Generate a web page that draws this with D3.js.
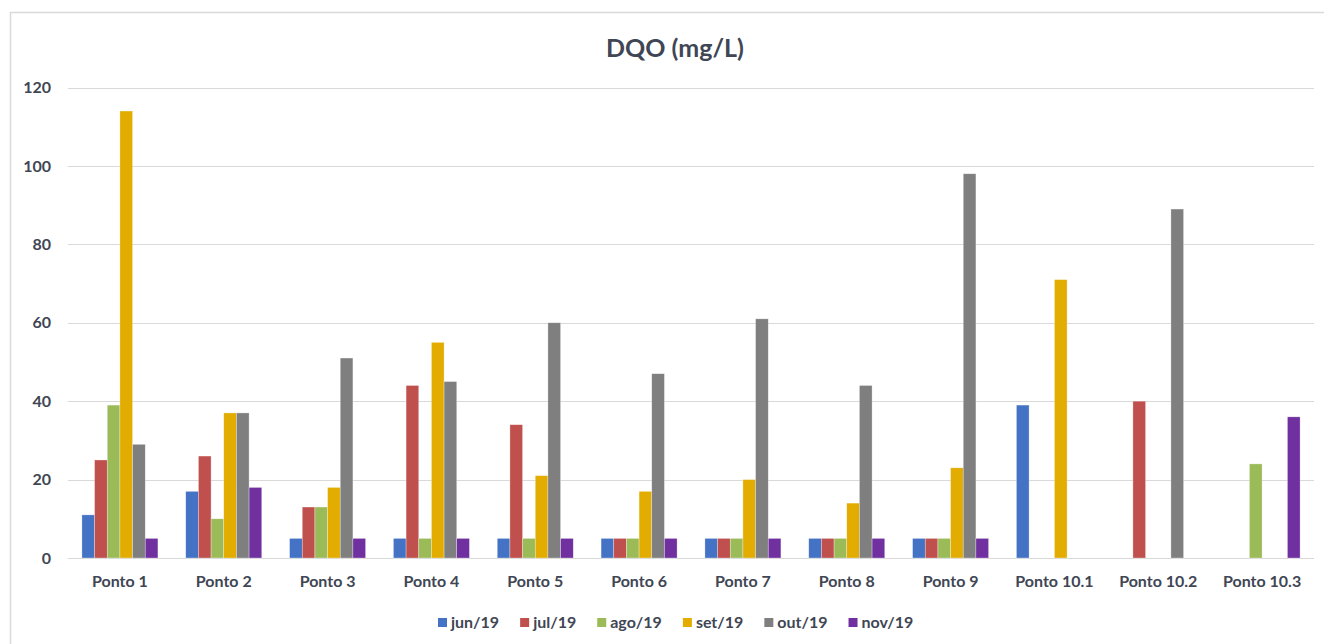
<!DOCTYPE html>
<html>
<head>
<meta charset="utf-8">
<script src="https://cdn.jsdelivr.net/npm/d3@7"></script>
<style>
  html, body { margin: 0; padding: 0; background: #fff; }
  svg { display: block; font-family: Lato, "Open Sans", "Liberation Sans", sans-serif; }
</style>
</head>
<body>
<svg id="chart" width="1324" height="644"></svg>
<script>
// Sampling points and monthly series (DQO, mg/L); null = no sample
const categories = ["Ponto 1", "Ponto 2", "Ponto 3", "Ponto 4", "Ponto 5", "Ponto 6",
                    "Ponto 7", "Ponto 8", "Ponto 9", "Ponto 10.1", "Ponto 10.2", "Ponto 10.3"];
const seriesNames = ["jun/19", "jul/19", "ago/19", "set/19", "out/19", "nov/19"];
const jun19 = [11, 17, 5, 5, 5, 5, 5, 5, 5, 39, null, null];
const jul19 = [25, 26, 13, 44, 34, 5, 5, 5, 5, null, 40, null];
const ago19 = [39, 10, 13, 5, 5, 5, 5, 5, 5, null, null, 24];
const set19 = [114, 37, 18, 55, 21, 17, 20, 14, 23, 71, null, null];
const out19 = [29, 37, 51, 45, 60, 47, 61, 44, 98, null, 89, null];
const nov19 = [5, 18, 5, 5, 5, 5, 5, 5, 5, null, null, 36];
const yTicks = [0, 20, 40, 60, 80, 100, 120];
const colors = ["#4472C4", "#C0504D", "#9BBB59", "#E2AC00", "#7F7F7F", "#7030A0"];

const seriesValues = [jun19, jul19, ago19, set19, out19, nov19];

const svg = d3.select("#chart");
const W = 1324, H = 644;
const x0 = 68, x1 = 1314, yTop = 87.5, yBot = 558;
const textColor = "#404654";

// Chart frame
svg.append("rect")
  .attr("x", 10.5).attr("y", 12.5)
  .attr("width", W + 10).attr("height", H + 10)
  .attr("fill", "#fff").attr("stroke", "#d9d9d9").attr("stroke-width", 1.5);

const x = d3.scaleBand().domain(categories).range([x0, x1]).paddingInner(0).paddingOuter(0);
const groupFrac = 76 / x.bandwidth();
const xs = d3.scaleBand().domain(seriesNames)
  .range([(1 - groupFrac) / 2 * x.bandwidth(), (1 + groupFrac) / 2 * x.bandwidth()]);
const y = d3.scaleLinear().domain([0, 120]).range([yBot, yTop]);

// Gridlines
svg.append("g").selectAll("line").data(yTicks).join("line")
  .attr("x1", x0).attr("x2", x1)
  .attr("y1", d => Math.round(y(d)) + 0.5).attr("y2", d => Math.round(y(d)) + 0.5)
  .attr("stroke", "#d9d9d9").attr("stroke-width", 1);

// Y axis labels
const yAxis = d3.axisLeft(y).tickValues(yTicks).tickSize(0).tickPadding(0);
const gy = svg.append("g").attr("transform", `translate(${x0 - 17},0)`).call(yAxis);
gy.select(".domain").remove();
gy.selectAll("text")
  .attr("font-size", 16).attr("font-weight", "bold").attr("fill", textColor)
  .attr("font-family", "Lato, 'Open Sans', sans-serif");

// Bars
const groups = svg.append("g").selectAll("g").data(categories).join("g")
  .attr("transform", d => `translate(${x(d)},0)`);
groups.selectAll("rect")
  .data((c, i) => seriesNames.map((s, k) => ({ s, k, v: seriesValues[k][i] })).filter(d => d.v != null))
  .join("rect")
  .attr("x", d => xs(d.s))
  .attr("width", xs.bandwidth())
  .attr("y", d => y(d.v))
  .attr("height", d => yBot - y(d.v))
  .attr("fill", d => colors[d.k])
  .attr("stroke", "#ffffff").attr("stroke-opacity", 0.5).attr("stroke-width", 0.6);

// X axis labels
const xAxis = d3.axisBottom(x).tickSize(0).tickPadding(0);
const gx = svg.append("g").attr("transform", `translate(0,${yBot + 18})`).call(xAxis);
gx.select(".domain").remove();
gx.selectAll("text")
  .attr("font-size", 16).attr("font-weight", "bold").attr("fill", textColor)
  .attr("font-family", "Lato, 'Open Sans', sans-serif");

// Title
svg.append("text")
  .attr("x", 675).attr("y", 57)
  .attr("text-anchor", "middle")
  .attr("font-size", 25).attr("font-weight", "bold").attr("fill", textColor)
  .text("DQO (mg/L)");

// Legend
const legend = svg.append("g");
const items = legend.selectAll("g").data(seriesNames).join("g");
items.append("rect").attr("width", 9).attr("height", 9).attr("y", -10)
  .attr("fill", (d, i) => colors[i]);
items.append("text").attr("x", 13).attr("y", 0)
  .attr("font-size", 16).attr("font-weight", "bold").attr("fill", textColor)
  .text(d => d);
const gap = 21;
let cx = 0;
items.each(function () {
  const w = this.getBBox().width;
  d3.select(this).attr("transform", `translate(${cx},0)`);
  cx += w + gap;
});
const totalW = cx - gap;
legend.attr("transform", `translate(${Math.round(676 - totalW / 2)},628)`);
</script>
</body>
</html>
